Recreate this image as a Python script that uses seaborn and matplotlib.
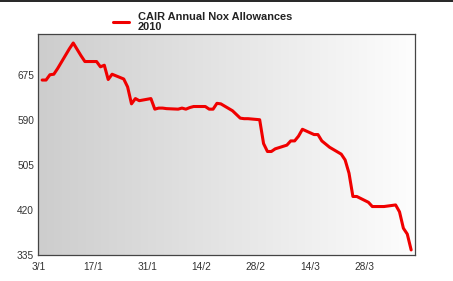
import matplotlib
matplotlib.use("Agg")
import matplotlib.pyplot as plt
from matplotlib.colors import LinearSegmentedColormap
from matplotlib.lines import Line2D
import numpy as np
import pandas as pd
import seaborn as sns

dates = ["2010-01-04", "2010-01-05", "2010-01-06", "2010-01-07", "2010-01-08",
         "2010-01-11", "2010-01-12", "2010-01-13", "2010-01-14", "2010-01-15",
         "2010-01-18", "2010-01-19", "2010-01-20", "2010-01-21", "2010-01-22",
         "2010-01-25", "2010-01-26", "2010-01-27", "2010-01-28", "2010-01-29",
         "2010-02-01", "2010-02-02", "2010-02-03", "2010-02-04", "2010-02-05",
         "2010-02-08", "2010-02-09", "2010-02-10", "2010-02-11", "2010-02-12",
         "2010-02-15", "2010-02-16", "2010-02-17", "2010-02-18", "2010-02-19",
         "2010-02-22", "2010-02-23", "2010-02-24", "2010-02-25", "2010-02-26",
         "2010-03-01", "2010-03-02", "2010-03-03", "2010-03-04", "2010-03-05",
         "2010-03-08", "2010-03-09", "2010-03-10", "2010-03-11", "2010-03-12",
         "2010-03-15", "2010-03-16", "2010-03-17", "2010-03-18", "2010-03-19",
         "2010-03-22", "2010-03-23", "2010-03-24", "2010-03-25", "2010-03-26",
         "2010-03-29", "2010-03-30", "2010-03-31", "2010-04-01", "2010-04-02",
         "2010-04-05", "2010-04-06", "2010-04-07", "2010-04-08", "2010-04-09"]
allowances = [665, 665, 675, 676, 687,
              724, 735, 723, 711, 700,
              700, 690, 693, 666, 676,
              667, 652, 620, 630, 626,
              630, 610, 612, 612, 611,
              610, 612, 610, 613, 615,
              615, 610, 610, 621, 620,
              607, 600, 593, 592, 592,
              590, 545, 530, 530, 535,
              542, 550, 550, 559, 572,
              562, 562, 550, 544, 538,
              525, 514, 489, 445, 445,
              434, 426, 426, 426, 426,
              429, 416, 385, 374, 344]

tick_dates = ["2010-01-03", "2010-01-17", "2010-01-31", "2010-02-14",
              "2010-02-28", "2010-03-14", "2010-03-28"]
tick_labels = ["3/1", "17/1", "31/1", "14/2", "28/2", "14/3", "28/3"]
y_ticks = [335, 420, 505, 590, 675]

df = pd.DataFrame({"date": pd.to_datetime(dates), "value": allowances})

sns.set_style("white")
plt.rcParams["font.family"] = ["Liberation Sans", "DejaVu Sans"]

fig = plt.figure(figsize=(4.53, 2.81), dpi=100)
ax = fig.add_axes([0.0845, 0.0936, 0.8317, 0.7854])

# grey-to-white gradient background
grad = LinearSegmentedColormap.from_list("bg", ["#cdcdcd", "#fdfdfd"])
ax.imshow(np.linspace(0, 1, 256).reshape(1, -1), extent=[0, 1, 0, 1],
          transform=ax.transAxes, aspect="auto", cmap=grad, zorder=0)

sns.lineplot(data=df, x="date", y="value", ax=ax, color="#f00000", lw=2.2,
             label="CAIR Annual Nox Allowances\n2010", zorder=3)

ax.set_xlim(pd.Timestamp("2010-01-03"), pd.Timestamp("2010-04-10"))
ax.set_ylim(335, 752)
ax.set_xticks(pd.to_datetime(tick_dates))
ax.set_xticklabels(tick_labels)
ax.set_yticks(y_ticks)
ax.set_xlabel("")
ax.set_ylabel("")
ax.tick_params(axis="both", length=0, labelsize=7.3, labelcolor="#333333")
ax.tick_params(axis="x", pad=5)
ax.tick_params(axis="y", pad=3)
for s in ax.spines.values():
    s.set_color("#444444")
    s.set_linewidth(0.9)

leg = ax.legend(loc="upper left", bbox_to_anchor=(0.232, 0.985), bbox_transform=fig.transFigure,
                frameon=False, handlelength=1.5, handletextpad=0.8,
                prop={"weight": "bold", "size": 7.9}, borderaxespad=0.3)
for t in leg.get_texts():
    t.set_linespacing(1.05)
    t.set_color("#222222")

fig.add_artist(Line2D([0, 1], [0.997, 0.997], color="black", lw=1.2, transform=fig.transFigure))

fig.savefig("out.png", dpi=100)
